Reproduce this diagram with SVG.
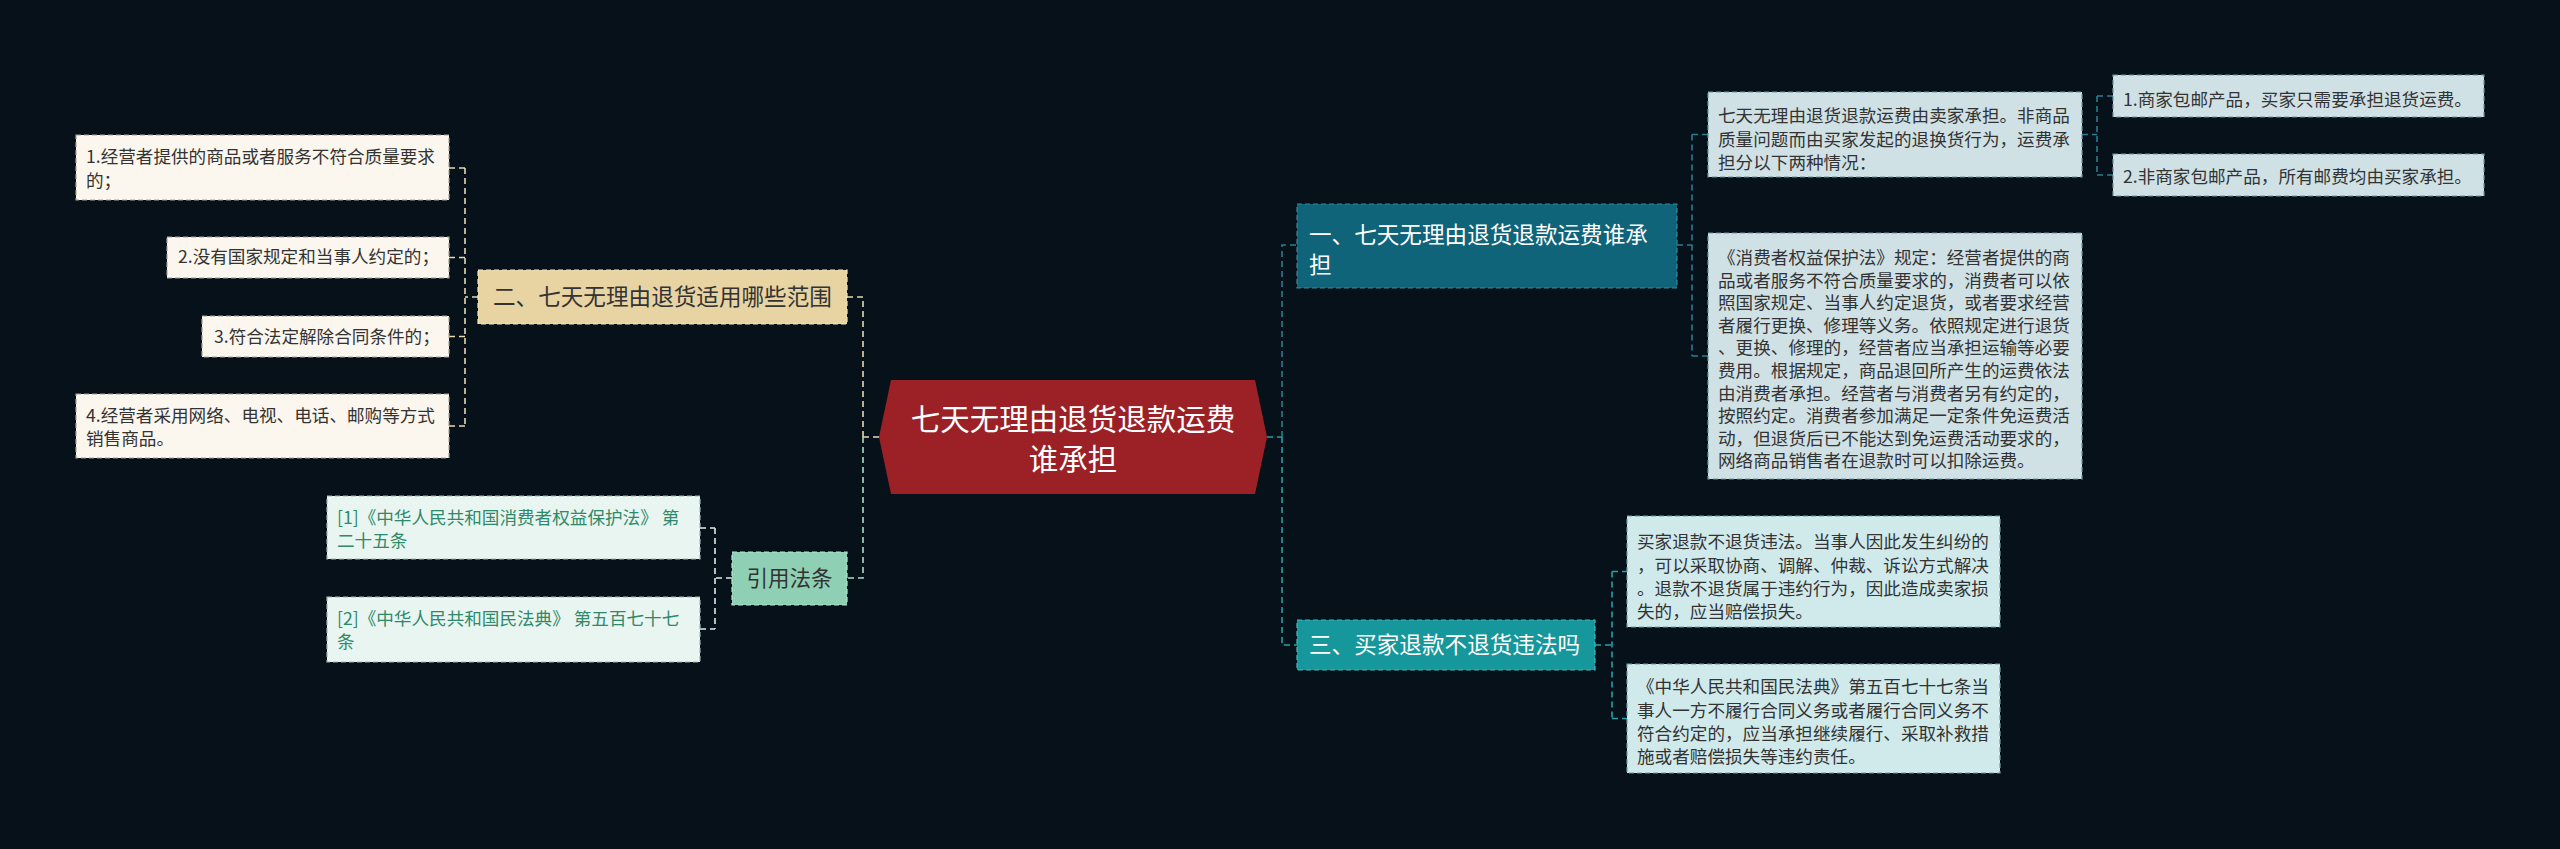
<svg xmlns="http://www.w3.org/2000/svg" width="2560" height="849" viewBox="0 0 2560 849">
<style>
text{font-family:"Noto Sans CJK SC","Noto Sans",sans-serif;}
.t17{font-size:17.6px;fill:#333;}
.tg{font-size:17.6px;fill:#2e8a6a;}
.box{stroke-width:1.2;stroke-dasharray:5,3;}
.leafL{fill:#fbf7ee;stroke:#a8a290;}
.ref{fill:#e9f5f1;stroke:#9fb8b0;}
.leafB{fill:#cfe1e5;stroke:#6f949c;}
.leafD{fill:#d0eaec;stroke:#6f9ea2;}
.con{fill:none;stroke-width:1.6;stroke-dasharray:6,4;}
.cL{stroke:#e6d9b4;}
.cR{stroke:#dbeee8;}
.cM{stroke:#a9dcc8;}
.cT{stroke:#2a7d8e;}
.cC{stroke:#22a2a6;}
</style>
<rect x="0" y="0" width="2560" height="849" fill="#06111a"/>

<g id="connectors">
  <path class="con cL" d="M879,437 H863 M863,437 V297 H847"/>
  <path class="con cM" d="M863,437 V578 H847"/>
  <path class="con cL" d="M478,297 H465 M465,168 V426 M449,168 H465 M449,257.5 H465 M449,336.5 H465 M449,426 H465"/>
  <path class="con cR" d="M732,578 H715 M715,528 V629 M700,528 H715 M700,629 H715"/>
  <path class="con cC" d="M1267,437 H1282 M1282,437 V645 H1297"/>
  <path class="con cT" d="M1282,437 V245 H1297"/>
  <path class="con cT" d="M1677,245 H1692 M1692,134.5 V356 M1692,134.5 H1708 M1692,356 H1708"/>
  <path class="con cT" d="M2082,134.5 H2097 M2097,96 V175 M2097,96 H2113 M2097,175 H2113"/>
  <path class="con cC" d="M1595,645 H1612 M1612,571.5 V718.5 M1612,571.5 H1627 M1612,718.5 H1627"/>
</g>

<g id="center">
  <polygon points="879,437 891,380 1255,380 1267,437 1255,494 891,494" fill="#9c2127"/>
  <text font-size="29.5" fill="#fff" text-anchor="middle"><tspan x="1073" y="430">七天无理由退货退款运费</tspan><tspan x="1073" y="469.5">谁承担</tspan></text>
</g>

<g id="n2">
  <rect x="478" y="270" width="369" height="54" fill="#e8d4a3" stroke="#f3e6c2" class="box"/>
  <text x="493" y="305" font-size="22.6" fill="#333">二、七天无理由退货适用哪些范围</text>
</g>
<g id="n2-1">
  <rect x="76" y="135" width="373" height="65" class="box leafL"/>
  <text class="t17"><tspan x="86" y="163">1.经营者提供的商品或者服务不符合质量要求</tspan><tspan x="86" y="186.5">的；</tspan></text>
</g>
<g id="n2-2">
  <rect x="167" y="237" width="282" height="41" class="box leafL"/>
  <text x="178" y="263" class="t17">2.没有国家规定和当事人约定的；</text>
</g>
<g id="n2-3">
  <rect x="202" y="316" width="247" height="41" class="box leafL"/>
  <text x="214" y="343" class="t17">3.符合法定解除合同条件的；</text>
</g>
<g id="n2-4">
  <rect x="76" y="394" width="373" height="64" class="box leafL"/>
  <text class="t17"><tspan x="86" y="421.5">4.经营者采用网络、电视、电话、邮购等方式</tspan><tspan x="86" y="444.5">销售商品。</tspan></text>
</g>

<g id="refs">
  <rect x="732" y="552" width="115" height="53" fill="#8fd0b5" stroke="#b8e4d2" class="box"/>
  <text x="789.5" y="586" font-size="21.5" fill="#333" text-anchor="middle">引用法条</text>
</g>
<g id="ref-1">
  <rect x="327" y="496" width="373" height="63" class="box ref"/>
  <text class="tg"><tspan x="337" y="523.5">[1]《中华人民共和国消费者权益保护法》 第</tspan><tspan x="337" y="546.5">二十五条</tspan></text>
</g>
<g id="ref-2">
  <rect x="327" y="597" width="373" height="65" class="box ref"/>
  <text class="tg"><tspan x="337" y="624.5">[2]《中华人民共和国民法典》 第五百七十七</tspan><tspan x="337" y="647.5">条</tspan></text>
</g>

<g id="n1">
  <rect x="1297" y="204" width="380" height="84" fill="#0f6479" stroke="#3b8798" class="box"/>
  <text font-size="22.6" fill="#fff"><tspan x="1309" y="242.5">一、七天无理由退货退款运费谁承</tspan><tspan x="1309" y="272.5">担</tspan></text>
</g>
<g id="n1-a">
  <rect x="1708" y="92" width="374" height="85" class="box leafB"/>
  <text class="t17"><tspan x="1718" y="122">七天无理由退货退款运费由卖家承担。非商品</tspan><tspan x="1718" y="145.5">质量问题而由买家发起的退换货行为，运费承</tspan><tspan x="1718" y="169">担分以下两种情况：</tspan></text>
</g>
<g id="n1-a-1">
  <rect x="2113" y="75" width="371" height="42" class="box leafB"/>
  <text x="2123" y="106" class="t17">1.商家包邮产品，买家只需要承担退货运费。</text>
</g>
<g id="n1-a-2">
  <rect x="2113" y="154" width="371" height="42" class="box leafB"/>
  <text x="2123" y="183" class="t17">2.非商家包邮产品，所有邮费均由买家承担。</text>
</g>
<g id="n1-b">
  <rect x="1708" y="233" width="374" height="246" class="box leafB"/>
  <text class="t17"><tspan x="1718" y="264">《消费者权益保护法》规定：经营者提供的商</tspan><tspan x="1718" y="286.6">品或者服务不符合质量要求的，消费者可以依</tspan><tspan x="1718" y="309.2">照国家规定、当事人约定退货，或者要求经营</tspan><tspan x="1718" y="331.8">者履行更换、修理等义务。依照规定进行退货</tspan><tspan x="1718" y="354.4">、更换、修理的，经营者应当承担运输等必要</tspan><tspan x="1718" y="377">费用。根据规定，商品退回所产生的运费依法</tspan><tspan x="1718" y="399.6">由消费者承担。经营者与消费者另有约定的，</tspan><tspan x="1718" y="422.2">按照约定。消费者参加满足一定条件免运费活</tspan><tspan x="1718" y="444.8">动，但退货后已不能达到免运费活动要求的，</tspan><tspan x="1718" y="467.4">网络商品销售者在退款时可以扣除运费。</tspan></text>
</g>

<g id="n3">
  <rect x="1297" y="620" width="298" height="50" fill="#16979b" stroke="#4cb8bb" class="box"/>
  <text x="1309" y="653" font-size="22.6" fill="#fff">三、买家退款不退货违法吗</text>
</g>
<g id="n3-a">
  <rect x="1627" y="516" width="373" height="111" class="box leafD"/>
  <text class="t17"><tspan x="1637" y="548">买家退款不退货违法。当事人因此发生纠纷的</tspan><tspan x="1637" y="571.5">，可以采取协商、调解、仲裁、诉讼方式解决</tspan><tspan x="1637" y="595">。退款不退货属于违约行为，因此造成卖家损</tspan><tspan x="1637" y="618">失的，应当赔偿损失。</tspan></text>
</g>
<g id="n3-b">
  <rect x="1627" y="664" width="373" height="109" class="box leafD"/>
  <text class="t17"><tspan x="1637" y="693">《中华人民共和国民法典》第五百七十七条当</tspan><tspan x="1637" y="716.5">事人一方不履行合同义务或者履行合同义务不</tspan><tspan x="1637" y="740">符合约定的，应当承担继续履行、采取补救措</tspan><tspan x="1637" y="763">施或者赔偿损失等违约责任。</tspan></text>
</g>
</svg>
